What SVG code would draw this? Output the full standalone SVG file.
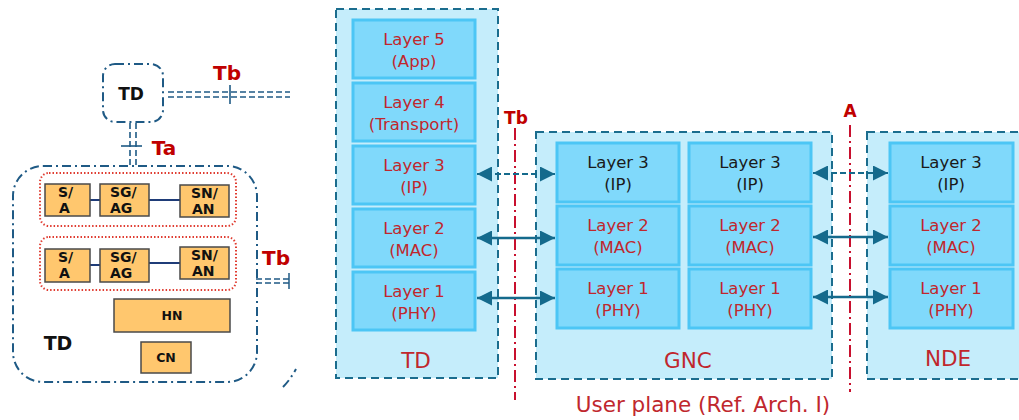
<svg xmlns="http://www.w3.org/2000/svg" width="1019" height="420" viewBox="0 0 1019 420">
<defs>
<style>
.dd{fill:none;stroke:#1f5a85;stroke-width:2;stroke-dasharray:9 4 2 4}
.dl{fill:none;stroke:#1f5a85;stroke-width:1.6;stroke-dasharray:6 3}
.rdot{fill:none;stroke:#e03c31;stroke-width:2;stroke-dasharray:1.5 2}
.ob{fill:#ffc76e;stroke:#4a4a4a;stroke-width:1.5}
.bl{font-family:"DejaVu Sans",Verdana,sans-serif;font-weight:bold;fill:#111}
.rb{font-family:"DejaVu Sans",Verdana,sans-serif;font-weight:bold;fill:#c00000}
.cont{fill:#c5edfb;stroke:#1b6d8e;stroke-width:2;stroke-dasharray:8 5}
.lay{fill:#80d9fb;stroke:#4cc6f5;stroke-width:3}
.t{font-family:"DejaVu Sans",Verdana,sans-serif;font-size:16.5px;text-anchor:middle;fill:#c0272d}
.tk{font-family:"DejaVu Sans",Verdana,sans-serif;font-size:16.5px;text-anchor:middle;fill:#1a1a1a}
.lab{font-family:"DejaVu Sans",Verdana,sans-serif;font-size:21.5px;text-anchor:middle;fill:#c0272d}
.ref{fill:none;stroke:#c8102e;stroke-width:2;stroke-dasharray:12 4 2 4}
.arr{fill:none;stroke:#146a8c;stroke-width:2.5}
.arrd{fill:none;stroke:#146a8c;stroke-width:2;stroke-dasharray:6 3}
.nav{stroke:#1f3c78;stroke-width:2}
</style>
<marker id="ah" viewBox="0 0 10 10" refX="10" refY="5" markerWidth="6" markerHeight="6" markerUnits="strokeWidth" orient="auto-start-reverse">
<path d="M0,0 L10,5 L0,10 z" fill="#146a8c"/>
</marker>
<marker id="ahd" viewBox="0 0 10 10" refX="10" refY="5" markerWidth="7.5" markerHeight="7.5" markerUnits="strokeWidth" orient="auto-start-reverse">
<path d="M0,0 L10,5 L0,10 z" fill="#146a8c"/>
</marker>
</defs>
<rect width="1019" height="420" fill="#ffffff"/>

<!-- LEFT PART -->
<g id="td-small">
<rect x="103" y="64" width="60" height="58" rx="12" class="dd"/>
<text x="131" y="100" class="bl" font-size="17" text-anchor="middle">TD</text>
</g>
<g id="tb-top">
<line x1="168" y1="92" x2="290" y2="92" class="dl"/>
<line x1="168" y1="97" x2="290" y2="97" class="dl"/>
<line x1="230" y1="85" x2="230" y2="104" stroke="#1f5a85" stroke-width="1.6"/>
<text x="227" y="80" class="rb" font-size="20" text-anchor="middle">Tb</text>
</g>
<g id="ta">
<line x1="130" y1="123" x2="130" y2="167" class="dl"/>
<line x1="136" y1="123" x2="136" y2="167" class="dl"/>
<line x1="121" y1="146" x2="142" y2="146" stroke="#1f5a85" stroke-width="1.6"/>
<text x="164" y="155" class="rb" font-size="20" text-anchor="middle">Ta</text>
</g>
<g id="td-big">
<rect x="13" y="166" width="244" height="216" rx="30" class="dd"/>
<text x="58" y="350" class="bl" font-size="19" text-anchor="middle">TD</text>
</g>
<g id="group1">
<rect x="40" y="173" width="196" height="53" rx="9" class="rdot"/>
<line x1="90" y1="200" x2="100" y2="200" class="nav"/>
<line x1="149" y1="200" x2="180" y2="200" class="nav"/>
<rect x="45" y="184" width="45" height="32" class="ob"/>
<text x="58" y="197" class="bl" font-size="14">S/</text>
<text x="59" y="213" class="bl" font-size="14">A</text>
<rect x="100" y="184" width="49" height="32" class="ob"/>
<text x="110" y="197" class="bl" font-size="14">SG/</text>
<text x="110" y="213" class="bl" font-size="14">AG</text>
<rect x="180" y="185" width="49" height="32" class="ob"/>
<text x="191" y="198" class="bl" font-size="14">SN/</text>
<text x="192" y="214" class="bl" font-size="14">AN</text>
</g>
<g id="group2">
<rect x="40" y="237" width="196" height="53" rx="9" class="rdot"/>
<line x1="90" y1="265" x2="100" y2="265" class="nav"/>
<line x1="149" y1="263" x2="180" y2="263" class="nav"/>
<rect x="45" y="249" width="45" height="33" class="ob"/>
<text x="58" y="262" class="bl" font-size="14">S/</text>
<text x="59" y="278" class="bl" font-size="14">A</text>
<rect x="100" y="249" width="49" height="33" class="ob"/>
<text x="110" y="262" class="bl" font-size="14">SG/</text>
<text x="110" y="278" class="bl" font-size="14">AG</text>
<rect x="180" y="247" width="49" height="32" class="ob"/>
<text x="191" y="260" class="bl" font-size="14">SN/</text>
<text x="192" y="276" class="bl" font-size="14">AN</text>
</g>
<g id="hn">
<rect x="114" y="299" width="116" height="33" class="ob"/>
<text x="172" y="320" class="bl" font-size="12.5" text-anchor="middle">HN</text>
</g>
<g id="cn">
<rect x="141" y="342" width="50" height="31" class="ob"/>
<text x="166" y="362" class="bl" font-size="12.5" text-anchor="middle">CN</text>
</g>
<g id="tb-side">
<text x="276" y="265" class="rb" font-size="20" text-anchor="middle">Tb</text>
<line x1="256" y1="279" x2="292" y2="279" class="dl"/>
<line x1="256" y1="283" x2="292" y2="283" class="dl"/>
<line x1="289" y1="273" x2="289" y2="289" stroke="#1f5a85" stroke-width="1.5"/>
<path d="M283,387 Q290,380 296,369" class="dd"/>
</g>

<!-- RIGHT PART -->
<g id="ref-lines">
<line x1="515" y1="128" x2="515" y2="400" class="ref"/>
<text x="516" y="124" class="rb" font-size="17" text-anchor="middle">Tb</text>
<line x1="850" y1="125" x2="850" y2="392" class="ref"/>
<text x="850" y="117" class="rb" font-size="17" text-anchor="middle">A</text>
</g>

<g id="td-stack">
<rect x="336" y="9" width="162" height="369" class="cont"/>
<rect x="353" y="20" width="122" height="58" class="lay"/>
<text x="414" y="45" class="t">Layer 5</text><text x="414" y="67" class="t">(App)</text>
<rect x="353" y="83" width="122" height="58" class="lay"/>
<text x="414" y="108" class="t">Layer 4</text><text x="414" y="130" class="t">(Transport)</text>
<rect x="353" y="146" width="122" height="58" class="lay"/>
<text x="414" y="171" class="t">Layer 3</text><text x="414" y="193" class="t">(IP)</text>
<rect x="353" y="209" width="122" height="58" class="lay"/>
<text x="414" y="234" class="t">Layer 2</text><text x="414" y="256" class="t">(MAC)</text>
<rect x="353" y="272" width="122" height="58" class="lay"/>
<text x="414" y="297" class="t">Layer 1</text><text x="414" y="319" class="t">(PHY)</text>
<text x="416" y="368" class="lab">TD</text>
</g>

<g id="gnc-stack">
<rect x="536" y="132" width="296" height="247" class="cont"/>
<rect x="557" y="143" width="122" height="59" class="lay"/>
<text x="618" y="168" class="tk">Layer 3</text><text x="618" y="190" class="tk">(IP)</text>
<rect x="557" y="206" width="122" height="59" class="lay"/>
<text x="618" y="231" class="t">Layer 2</text><text x="618" y="253" class="t">(MAC)</text>
<rect x="557" y="269" width="122" height="59" class="lay"/>
<text x="618" y="294" class="t">Layer 1</text><text x="618" y="316" class="t">(PHY)</text>
<rect x="689" y="143" width="122" height="59" class="lay"/>
<text x="750" y="168" class="tk">Layer 3</text><text x="750" y="190" class="tk">(IP)</text>
<rect x="689" y="206" width="122" height="59" class="lay"/>
<text x="750" y="231" class="t">Layer 2</text><text x="750" y="253" class="t">(MAC)</text>
<rect x="689" y="269" width="122" height="59" class="lay"/>
<text x="750" y="294" class="t">Layer 1</text><text x="750" y="316" class="t">(PHY)</text>
<text x="688" y="368" class="lab">GNC</text>
</g>

<g id="nde-stack">
<rect x="867" y="132" width="160" height="247" class="cont"/>
<rect x="890" y="143" width="123" height="59" class="lay"/>
<text x="951" y="168" class="tk">Layer 3</text><text x="951" y="190" class="tk">(IP)</text>
<rect x="890" y="206" width="123" height="59" class="lay"/>
<text x="951" y="231" class="t">Layer 2</text><text x="951" y="253" class="t">(MAC)</text>
<rect x="890" y="269" width="123" height="59" class="lay"/>
<text x="951" y="294" class="t">Layer 1</text><text x="951" y="316" class="t">(PHY)</text>
<text x="948" y="366" class="lab">NDE</text>
</g>

<g id="connectors">
<line x1="477" y1="174" x2="555" y2="174" class="arrd" marker-start="url(#ahd)" marker-end="url(#ahd)"/>
<line x1="477" y1="238" x2="555" y2="238" class="arr" marker-start="url(#ah)" marker-end="url(#ah)"/>
<line x1="477" y1="298" x2="555" y2="298" class="arr" marker-start="url(#ah)" marker-end="url(#ah)"/>
<line x1="813" y1="173" x2="888" y2="173" class="arrd" marker-start="url(#ahd)" marker-end="url(#ahd)"/>
<line x1="813" y1="237" x2="888" y2="237" class="arr" marker-start="url(#ah)" marker-end="url(#ah)"/>
<line x1="813" y1="297" x2="888" y2="297" class="arr" marker-start="url(#ah)" marker-end="url(#ah)"/>
</g>

<text x="703" y="412" font-family="DejaVu Sans, Verdana, sans-serif" font-size="21.5" text-anchor="middle" fill="#c0272d">User plane (Ref. Arch. I)</text>
</svg>
